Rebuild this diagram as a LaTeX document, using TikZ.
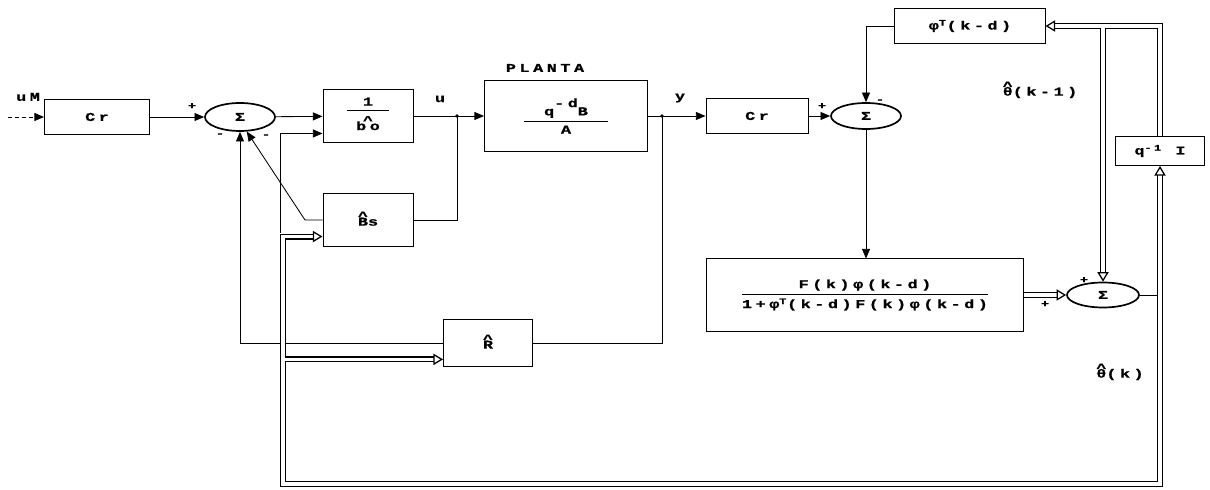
\documentclass[tikz,border=0pt]{standalone}
\usepackage{fontspec}
\usepackage{amsmath}
\usetikzlibrary{arrows.meta,shapes.geometric}

\newfontfamily\dotf{Liberation Mono}[FakeStretch=1.4,LetterSpace=30,FakeBold=1]
\newcommand{\hatop}[1]{\begin{tabular}[b]{@{}c@{}}\textasciicircum\\[-6pt]#1\end{tabular}}
\newcommand{\bfrac}[2]{\ensuremath{\genfrac{}{}{0.8pt}{0}{\text{#1}}{\text{#2}}}}

\begin{document}
\begin{tikzpicture}[x=0.025cm, y=-0.025cm, line width=0.6pt,
  >={Triangle[length=2.4mm,width=2mm]},
  font=\dotf\bfseries\fontsize{8.5}{10}\selectfont]
\tikzset{
  blk/.style={draw, inner sep=0pt, line width=0.7pt},
  sumnode/.style={draw, ellipse, inner sep=0pt, line width=1.2pt, minimum width=1.75cm, minimum height=0.7cm},
  vec/.style={line width=0.9pt, double, double distance=2.4pt},
  vtip/.tip={Triangle[open,length=2.4mm,width=2.8mm]},
  vecarr/.style={vec, -vtip},
  sgn/.style={inner sep=0pt, font=\dotf\bfseries\fontsize{7}{8}\selectfont}
}
\useasboundingbox (0,0) rectangle (1210,490);

% blocks
\node[blk, minimum width=2.625cm, minimum height=0.875cm] (cr1) at (97,117) {Cr};
\node[sumnode] (s1) at (240,117) {Σ};
\node[blk, minimum width=2.25cm, minimum height=1.3cm] (inv) at (368,116) {\bfrac{\makebox[1.05cm]{1}}{\hatop{bo}}};
\node[blk, minimum width=4.075cm, minimum height=1.75cm] (plant) at (566,116) {\bfrac{\makebox[2.1cm]{q\raisebox{1.3ex}{-d}B}}{A}};
\node[blk, minimum width=2.55cm, minimum height=0.875cm] (cr2) at (757,116) {Cr};
\node[sumnode, minimum height=0.65cm] (s2) at (866,116) {Σ};
\node[blk, minimum width=3.75cm, minimum height=0.875cm] (phit) at (970,26) {φ\textsuperscript{T}(k-d)};
\node[blk, minimum width=2.225cm, minimum height=0.725cm] (qinv) at (1160,151) {q\textsuperscript{-1} I};
\node[blk, minimum width=7.925cm, minimum height=1.8cm] (gain) at (865,295) {\bfrac{F(k)φ(k-d)}{1+φ\textsuperscript{T}(k-d)F(k)φ(k-d)}};
\node[sumnode, minimum width=1.8cm, minimum height=0.625cm] (s3) at (1103,295) {Σ};
\node[blk, minimum width=2.25cm, minimum height=1.3cm] (bs) at (368,220) {\hatop{B}s};
\node[blk, minimum width=2.225cm, minimum height=1.175cm] (rh) at (488,343) {\hatop{R}};

% labels
\node (planta) at (545,68) {PLANTA};
\node (um) at (28,97) {uM};
\node (ul) at (440,99) {u};
\node (yl) at (680,98) {y};
\node (thk1) at (1040,90) {\hatop{θ}(k-1)};
\node (thk) at (1120,372) {\hatop{θ}(k)};

\node[sgn] (p1) at (192,106) {+};
\node[sgn] (m1) at (220,135) {-};
\node[sgn] (m2) at (266,136) {-};
\node[sgn] (p2) at (822,106) {+};
\node[sgn] (m3) at (880,101) {-};
\node[sgn] (p3) at (1084,280) {+};
\node[sgn] (p4) at (1045,304) {+};

\coordinate (in) at (8,117);
\coordinate (ju) at (457,116);
\coordinate (jy) at (662,116);
\coordinate (bsk) at (305,220);
\coordinate (vk) at (280,233);
\coordinate (lk) at (283,484);
\coordinate (jr) at (284.7,0);
\coordinate (js) at (1157,295);
\coordinate (jt) at (1103,27.7);

% signal lines
\draw[densely dashed, ->] (in) -- (cr1);
\draw[->] (cr1) -- (s1);
\draw[->] (s1) -- (inv);
\draw[->] (inv) -- (plant);
\fill (ju) circle[radius=1.3pt];
\draw (ju) |- (bs.east);
\draw[->] (bs.west) -- (bsk) -- (s1.-65);
\draw[->] (plant) -- (cr2);
\fill (jy) circle[radius=1.3pt];
\draw (jy) |- (rh.east);
\draw[->] (rh.west) -| (s1.south);
\draw[->] (cr2) -- (s2);
\draw[->] (phit.west) -| (s2.north);
\draw[->] (s2.south) -- (s2.south |- gain.north);
\draw[->] (vk) |- (inv.201);
\draw (s3.east) -- (js);

% parameter vector
\draw[vec, vtip-vtip] (bs.200) -| (lk) -| (qinv.south);
\draw[vecarr] (jr |- rh.200) -- (rh.200);
\draw[vecarr] (gain) -- (s3);
\draw[vecarr] (qinv.north) |- (phit.east);
\draw[vecarr] (jt) -- (s3.north);
\end{tikzpicture}
\end{document}
